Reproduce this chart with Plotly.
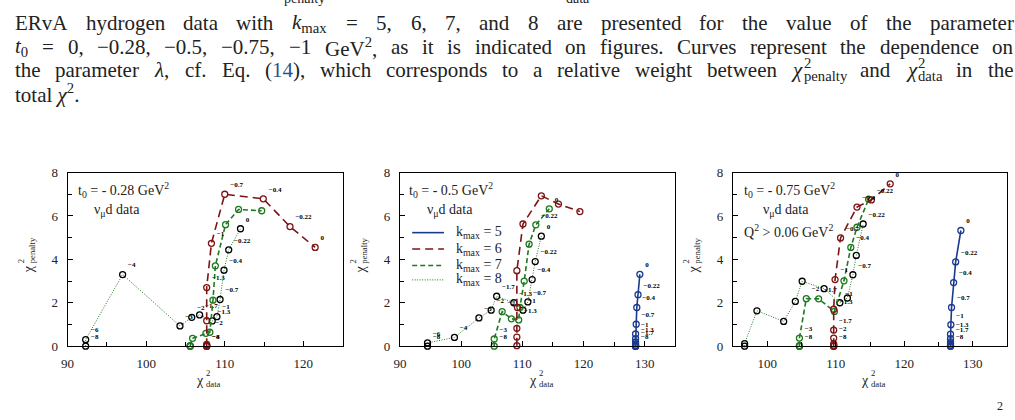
import plotly.graph_objects as go

W, H = 1015, 420

# ---------------- data ----------------
# panel 1 : t0 = -0.28 GeV^2
p1_k6_x = [107.7, 107.7, 107.7, 107.7, 107.7, 107.7, 107.7, 108.3, 110.0, 114.9, 118.3, 121.5]
p1_k6_y = [0, 0, 0, 0.02, 0.08, 1.17, 2.7, 4.74, 7.0, 6.79, 5.51, 4.55]
p1_k6_t = ["−8", "", "−4", "", "", "", "−1.3", "−1", "−0.7", "−0.4", "−0.22", "0"]
p1_k7_x = [105.6, 105.6, 105.6, 105.9, 107.6, 108.1, 108.5, 108.8, 110.1, 111.75, 114.7]
p1_k7_y = [0, 0, 0.02, 0.36, 0.59, 0.64, 2.12, 3.7, 5.6, 6.3, 6.24]
p1_k7_t = ["", "", "", "", "", "−2", "", "", "", "", ""]
p1_k8_x = [92.3, 92.3, 97.0, 104.3, 105.8, 106.8, 108.4, 109.0, 109.4, 109.9, 110.5, 112.0]
p1_k8_y = [0, 0.3, 3.3, 0.93, 1.33, 1.44, 1.16, 1.36, 2.15, 3.5, 4.44, 5.41]
p1_k8_t = ["−8", "−6", "−4", "−3", "−2", "−1.7", "−1.3", "−1", "−0.7", "−0.4", "−0.22", "0"]

# panel 2 : t0 = -0.5 GeV^2
p2_k5_x = [128.5, 128.5, 128.5, 128.5, 128.5, 128.5, 128.5, 128.5, 128.6, 128.7, 128.9, 129.2]
p2_k5_y = [0, 0, 0, 0.03, 0.1, 0.19, 0.34, 0.56, 1.01, 1.78, 2.37, 3.31]
p2_k5_t = ["−8", "", "", "", "", "−1.7", "−1.3", "−1", "−0.7", "−0.4", "−0.22", "0"]
p2_k6_x = [109.1, 109.1, 109.1, 109.2, 109.1, 110.1, 113.1, 115.9, 119.4]
p2_k6_y = [0.02, 0.42, 0.82, 1.78, 3.48, 5.63, 6.93, 6.55, 6.2]
p2_k6_t = ["", "", "", "", "", "", "", "", ""]
p2_k7_x = [105.4, 105.4, 106.7, 108.2, 109.4, 109.6, 110.3, 111.1, 112.2, 114.4]
p2_k7_y = [0, 0.33, 1.59, 1.26, 1.21, 1.78, 3.0, 4.7, 5.59, 6.33]
p2_k7_t = ["−8", "−3", "−2", "", "−1.3", "", "", "", "−0.22", "0"]
p2_k8_x = [94.5, 94.5, 98.9, 102.9, 104.9, 105.8, 108.6, 110.1, 110.9, 111.6, 112.1, 113.1]
p2_k8_y = [0, 0.15, 0.4, 1.3, 1.66, 2.3, 2.0, 1.66, 2.04, 3.07, 3.9, 5.07]
p2_k8_t = ["−8", "−6", "−4", "−3", "−2", "−1.7", "−1.3", "−1", "−0.7", "−0.4", "−0.22", "0"]

# panel 3 : t0 = -0.75 GeV^2, Q^2 > 0.06
p3_k5_x = [126.75, 126.75, 126.75, 126.75, 126.75, 126.75, 126.75, 126.8, 126.9, 127.2, 127.5, 128.26]
p3_k5_y = [0, 0, 0.04, 0.11, 0.2, 0.34, 0.55, 0.99, 1.78, 2.93, 3.88, 5.33]
p3_k5_t = ["−8", "", "", "", "", "−1.7", "−1.3", "−1", "−0.7", "−0.4", "−0.22", "0"]
p3_k6_x = [109.7, 109.7, 109.7, 109.7, 109.7, 109.7, 109.7, 109.9, 110.7, 113.1, 115.2, 117.95]
p3_k6_y = [0, 0, 0.02, 0.1, 0.37, 0.74, 1.7, 3.07, 4.99, 6.41, 6.74, 7.48]
p3_k6_t = ["−8", "", "", "", "−2", "−1.7", "", "−1", "−0.7", "−0.4", "−0.22", "0"]
p3_k7_x = [104.7, 104.7, 104.7, 104.7, 105.7, 107.5, 109.8, 111.2, 112.2, 113.1, 114.8]
p3_k7_y = [0, 0, 0.02, 0.37, 2.19, 2.18, 1.6, 3.01, 4.55, 5.48, 6.77]
p3_k7_t = ["−8", "", "", "−3", "−2", "−1.7", "−1.3", "", "−0.4", "", ""]
p3_k8_x = [96.7, 96.7, 98.5, 102.4, 104.1, 105.1, 108.3, 110.6, 111.7, 112.5, 113.0, 114.0]
p3_k8_y = [0, 0.12, 1.63, 1.14, 2.06, 2.99, 2.65, 2.0, 2.22, 3.29, 4.18, 5.63]
p3_k8_t = ["", "", "", "", "", "", "", "−1", "", "−0.7", "", "−0.22"]

x_ranges = [[90, 125], [90, 135], [95, 135]]
x_tick0 = [90, 90, 100]
panel_titles = [
    ["t<sub>0</sub> = - 0.28 GeV<sup>2</sup>", "ν<sub>μ</sub>d data"],
    ["t<sub>0</sub> = - 0.5 GeV<sup>2</sup>", "ν<sub>μ</sub>d data"],
    ["t<sub>0</sub> = - 0.75 GeV<sup>2</sup>", "ν<sub>μ</sub>d data", "Q<sup>2</sup> > 0.06 GeV<sup>2</sup>"],
]
legend_labels = ["k<sub>max</sub> = 5", "k<sub>max</sub> = 6", "k<sub>max</sub> = 7", "k<sub>max</sub> = 8"]

# ---------------- styling ----------------
BLUE = "#1a3a8f"
RED = "#7d1414"
GREEN = "#1e7a1e"
SERIF = "Liberation Serif"
styles = {
    5: dict(line=dict(color=BLUE, width=1.6), mcol=BLUE),
    6: dict(line=dict(color=RED, width=1.6, dash="8px,5px"), mcol=RED),
    7: dict(line=dict(color=GREEN, width=1.6, dash="5px,3px"), mcol=GREEN),
    8: dict(line=dict(color=GREEN, width=1.0, dash="1px,1.5px"), mcol="black"),
}

fig = go.Figure()


def add_series(k, xs, ys, ts, i):
    st = styles[k]
    xa = "x" if i == 1 else f"x{i}"
    ya = "y" if i == 1 else f"y{i}"
    fig.add_trace(go.Scatter(
        x=xs, y=ys, mode="lines+markers",
        line=st["line"],
        marker=dict(symbol="circle-open", size=6, color=st["mcol"], line=dict(width=1.3, color=st["mcol"])),
        cliponaxis=False, showlegend=False, xaxis=xa, yaxis=ya,
    ))
    lx = [x for x, t in zip(xs, ts) if t]
    ly = [y for y, t in zip(ys, ts) if t]
    lt = [t for t in ts if t]
    if lt:
        fig.add_trace(go.Scatter(
            x=lx, y=ly, text=lt, mode="markers+text", textposition="top right",
            marker=dict(size=7, color="rgba(0,0,0,0)"),
            textfont=dict(family=SERIF, size=7, color="black", weight="bold"),
            cliponaxis=False, showlegend=False, xaxis=xa, yaxis=ya, hoverinfo="skip",
        ))


add_series(8, p1_k8_x, p1_k8_y, p1_k8_t, 1)
add_series(7, p1_k7_x, p1_k7_y, p1_k7_t, 1)
add_series(6, p1_k6_x, p1_k6_y, p1_k6_t, 1)

add_series(8, p2_k8_x, p2_k8_y, p2_k8_t, 2)
add_series(7, p2_k7_x, p2_k7_y, p2_k7_t, 2)
add_series(6, p2_k6_x, p2_k6_y, p2_k6_t, 2)
add_series(5, p2_k5_x, p2_k5_y, p2_k5_t, 2)

add_series(8, p3_k8_x, p3_k8_y, p3_k8_t, 3)
add_series(7, p3_k7_x, p3_k7_y, p3_k7_t, 3)
add_series(6, p3_k6_x, p3_k6_y, p3_k6_t, 3)
add_series(5, p3_k5_x, p3_k5_y, p3_k5_t, 3)

# ---------------- layout ----------------
x_dom_px = [(61, 338), (395.7, 673), (731, 1007)]
y_dom_px = (171.7, 351.7)


def px2x(px):
    return px / W


def py2y(py):
    return 1 - py / H


layout = dict(
    width=W, height=H, margin=dict(l=0, r=0, t=0, b=0),
    paper_bgcolor="white", plot_bgcolor="white", showlegend=False,
)
for i in range(3):
    xa = dict(
        domain=[px2x(x_dom_px[i][0]), px2x(x_dom_px[i][1])],
        range=x_ranges[i], tick0=x_tick0[i], dtick=10,
        showgrid=False, zeroline=False, showline=True, linecolor="black", linewidth=1,
        mirror=True, ticks="inside", ticklen=5, tickcolor="black", ticklabelstandoff=5,
        minor=dict(dtick=5, ticks="inside", ticklen=4, tickcolor="black"),
        tickfont=dict(family=SERIF, size=13, color="#222"),
        anchor="y" if i == 0 else f"y{i+1}",
    )
    ya = dict(
        domain=[py2y(y_dom_px[1]), py2y(y_dom_px[0])],
        range=[0, 8], tick0=0, dtick=2,
        showgrid=False, zeroline=False, showline=True, linecolor="black", linewidth=1,
        mirror=True, ticks="inside", ticklen=5, tickcolor="black", ticklabelstandoff=6,
        minor=dict(dtick=1, ticks="inside", ticklen=4, tickcolor="black"),
        tickfont=dict(family=SERIF, size=13, color="#222"),
        anchor="x" if i == 0 else f"x{i+1}",
    )
    layout["xaxis" if i == 0 else f"xaxis{i+1}"] = xa
    layout["yaxis" if i == 0 else f"yaxis{i+1}"] = ya
fig.update_layout(**layout)

anns = []
shapes = []


def ann(text, px, py, size, xanchor="left", yanchor="middle", color="#222", angle=0, family=SERIF):
    anns.append(dict(
        text=text, x=px2x(px), y=py2y(py), xref="paper", yref="paper",
        xanchor=xanchor, yanchor=yanchor, showarrow=False, textangle=angle,
        font=dict(family=family, size=size, color=color),
    ))


# panel texts
text_pos = [
    [(69, 190), (86, 211)],
    [(403, 190), (421, 211)],
    [(740, 190), (759, 211), (740, 232)],
]
for i in range(3):
    for txt, (px, py) in zip(panel_titles[i], text_pos[i]):
        ann(txt, px, py, 14)

# legend in panel 2
leg_y = [234, 251, 268, 283]
leg_style = [styles[5]["line"], styles[6]["line"], styles[7]["line"], styles[8]["line"]]
for lab, ly, ls in zip(legend_labels, leg_y, leg_style):
    shapes.append(dict(type="line", xref="paper", yref="paper",
                       x0=px2x(408), x1=px2x(440), y0=py2y(ly), y1=py2y(ly), line=ls))
    ann(lab, 450, ly, 14)


# chi^2 axis titles (stacked sup/sub)
def chi_h(cx, cy, sub, size):
    ann("χ", cx, cy, size, xanchor="center")
    ann("2", cx + 0.3 * size, cy - 0.5 * size, size * 0.62)
    ann(sub, cx + 0.3 * size, cy + 0.3 * size, size * 0.62)


def chi_v(cx, cy, sub, size):
    ann("χ", cx, cy, size, xanchor="center", angle=-90)
    ann("2", cx - 0.5 * size, cy - 0.3 * size, size * 0.62, xanchor="center", yanchor="bottom", angle=-90)
    ann(sub, cx + 0.3 * size, cy - 0.3 * size, size * 0.62, xanchor="center", yanchor="bottom", angle=-90)


for i in range(3):
    x0, x1 = x_dom_px[i]
    chi_h((x0 + x1) / 2 - 5, 387, "data", 14)
    chi_v(x0 - 40, 272, "penalty", 14)

# ---------------- caption text (paper text above the figure) ----------------
TW = {' ': 250, 'a': 444, 'b': 500, 'c': 444, 'd': 500, 'e': 444, 'f': 333, 'g': 500, 'h': 500, 'i': 278,
      'j': 278, 'k': 500, 'l': 278, 'm': 778, 'n': 500, 'o': 500, 'p': 500, 'q': 500, 'r': 333, 's': 389,
      't': 278, 'u': 500, 'v': 500, 'w': 722, 'x': 500, 'y': 500, 'z': 444, 'A': 722, 'C': 667, 'E': 611,
      'G': 722, 'R': 667, 'V': 722, 'Q': 722, ',': 250, '.': 250, '(': 333, ')': 333, '=': 564, '−': 564,
      'λ': 550, 'χ': 550}
for ch in "0123456789":
    TW[ch] = 500


def tw(s):
    return sum(TW.get(c, 500) for c in s) / 1000.0


CAP = 21
X0, X1 = 6, 1011
BLUEREF = "#2a4f8f"

cap_lines = [
    (17, ["ERvA", "hydrogen", "data", "with", ("<i>k</i><sub>max</sub>", tw("k") + 0.7 * tw("max")), "=", "5,", "6,",
          "7,", "and", "8", "are", "presented", "for", "the", "value", "of", "the", "parameter"]),
    (41.5, [("<i>t</i><sub>0</sub>", tw("t") + 0.35), "=", "0,", "−0.28,", "−0.5,", "−0.75,", "−1",
            ("GeV<sup>2</sup>,", tw("GeV,") + 0.35), "as", "it", "is", "indicated", "on", "figures.", "Curves",
            "represent", "the", "dependence", "on"]),
    (65.5, ["the", "parameter", ("<i>λ</i>,", tw("λ,")), "cf.", "Eq.",
            (f"(<span style='color:{BLUEREF}'>14</span>),", tw("(14),")), "which", "corresponds", "to", "a",
            "relative", "weight", "between", ("CHI:penalty", tw("χ") + 0.7 * tw("penalty")), "and",
            ("CHI:data", tw("χ") + 0.7 * tw("data")), "in", "the"]),
]
for cy, toks in cap_lines:
    items = []
    for t in toks:
        if isinstance(t, tuple):
            items.append((t[0], t[1] * CAP))
        else:
            items.append((t, tw(t) * CAP))
    total = sum(w for _, w in items)
    gap = (X1 - X0 - total) / (len(items) - 1)
    x = X0
    for txt, w in items:
        if txt.startswith("CHI:"):
            sub = txt[4:]
            ann("<i>χ</i>", x, cy, CAP)
            ann("2", x + tw("χ") * CAP + 1, cy - 7, CAP * 0.7)
            ann(sub, x + tw("χ") * CAP + 1, cy + 6, CAP * 0.7)
        else:
            ann(txt, x, cy, CAP)
        x += w + gap

ann("total <i>χ</i><sup>2</sup>.", X0, 89.5, CAP)

# partially visible previous line and following text
ann("penalty", 300, -9, 14, xanchor="center")
ann("data", 575, -9, 14, xanchor="center")
ann("2", 1000, 414, 12, xanchor="center")

fig.update_layout(annotations=anns, shapes=shapes)
fig.write_html("out.html")
